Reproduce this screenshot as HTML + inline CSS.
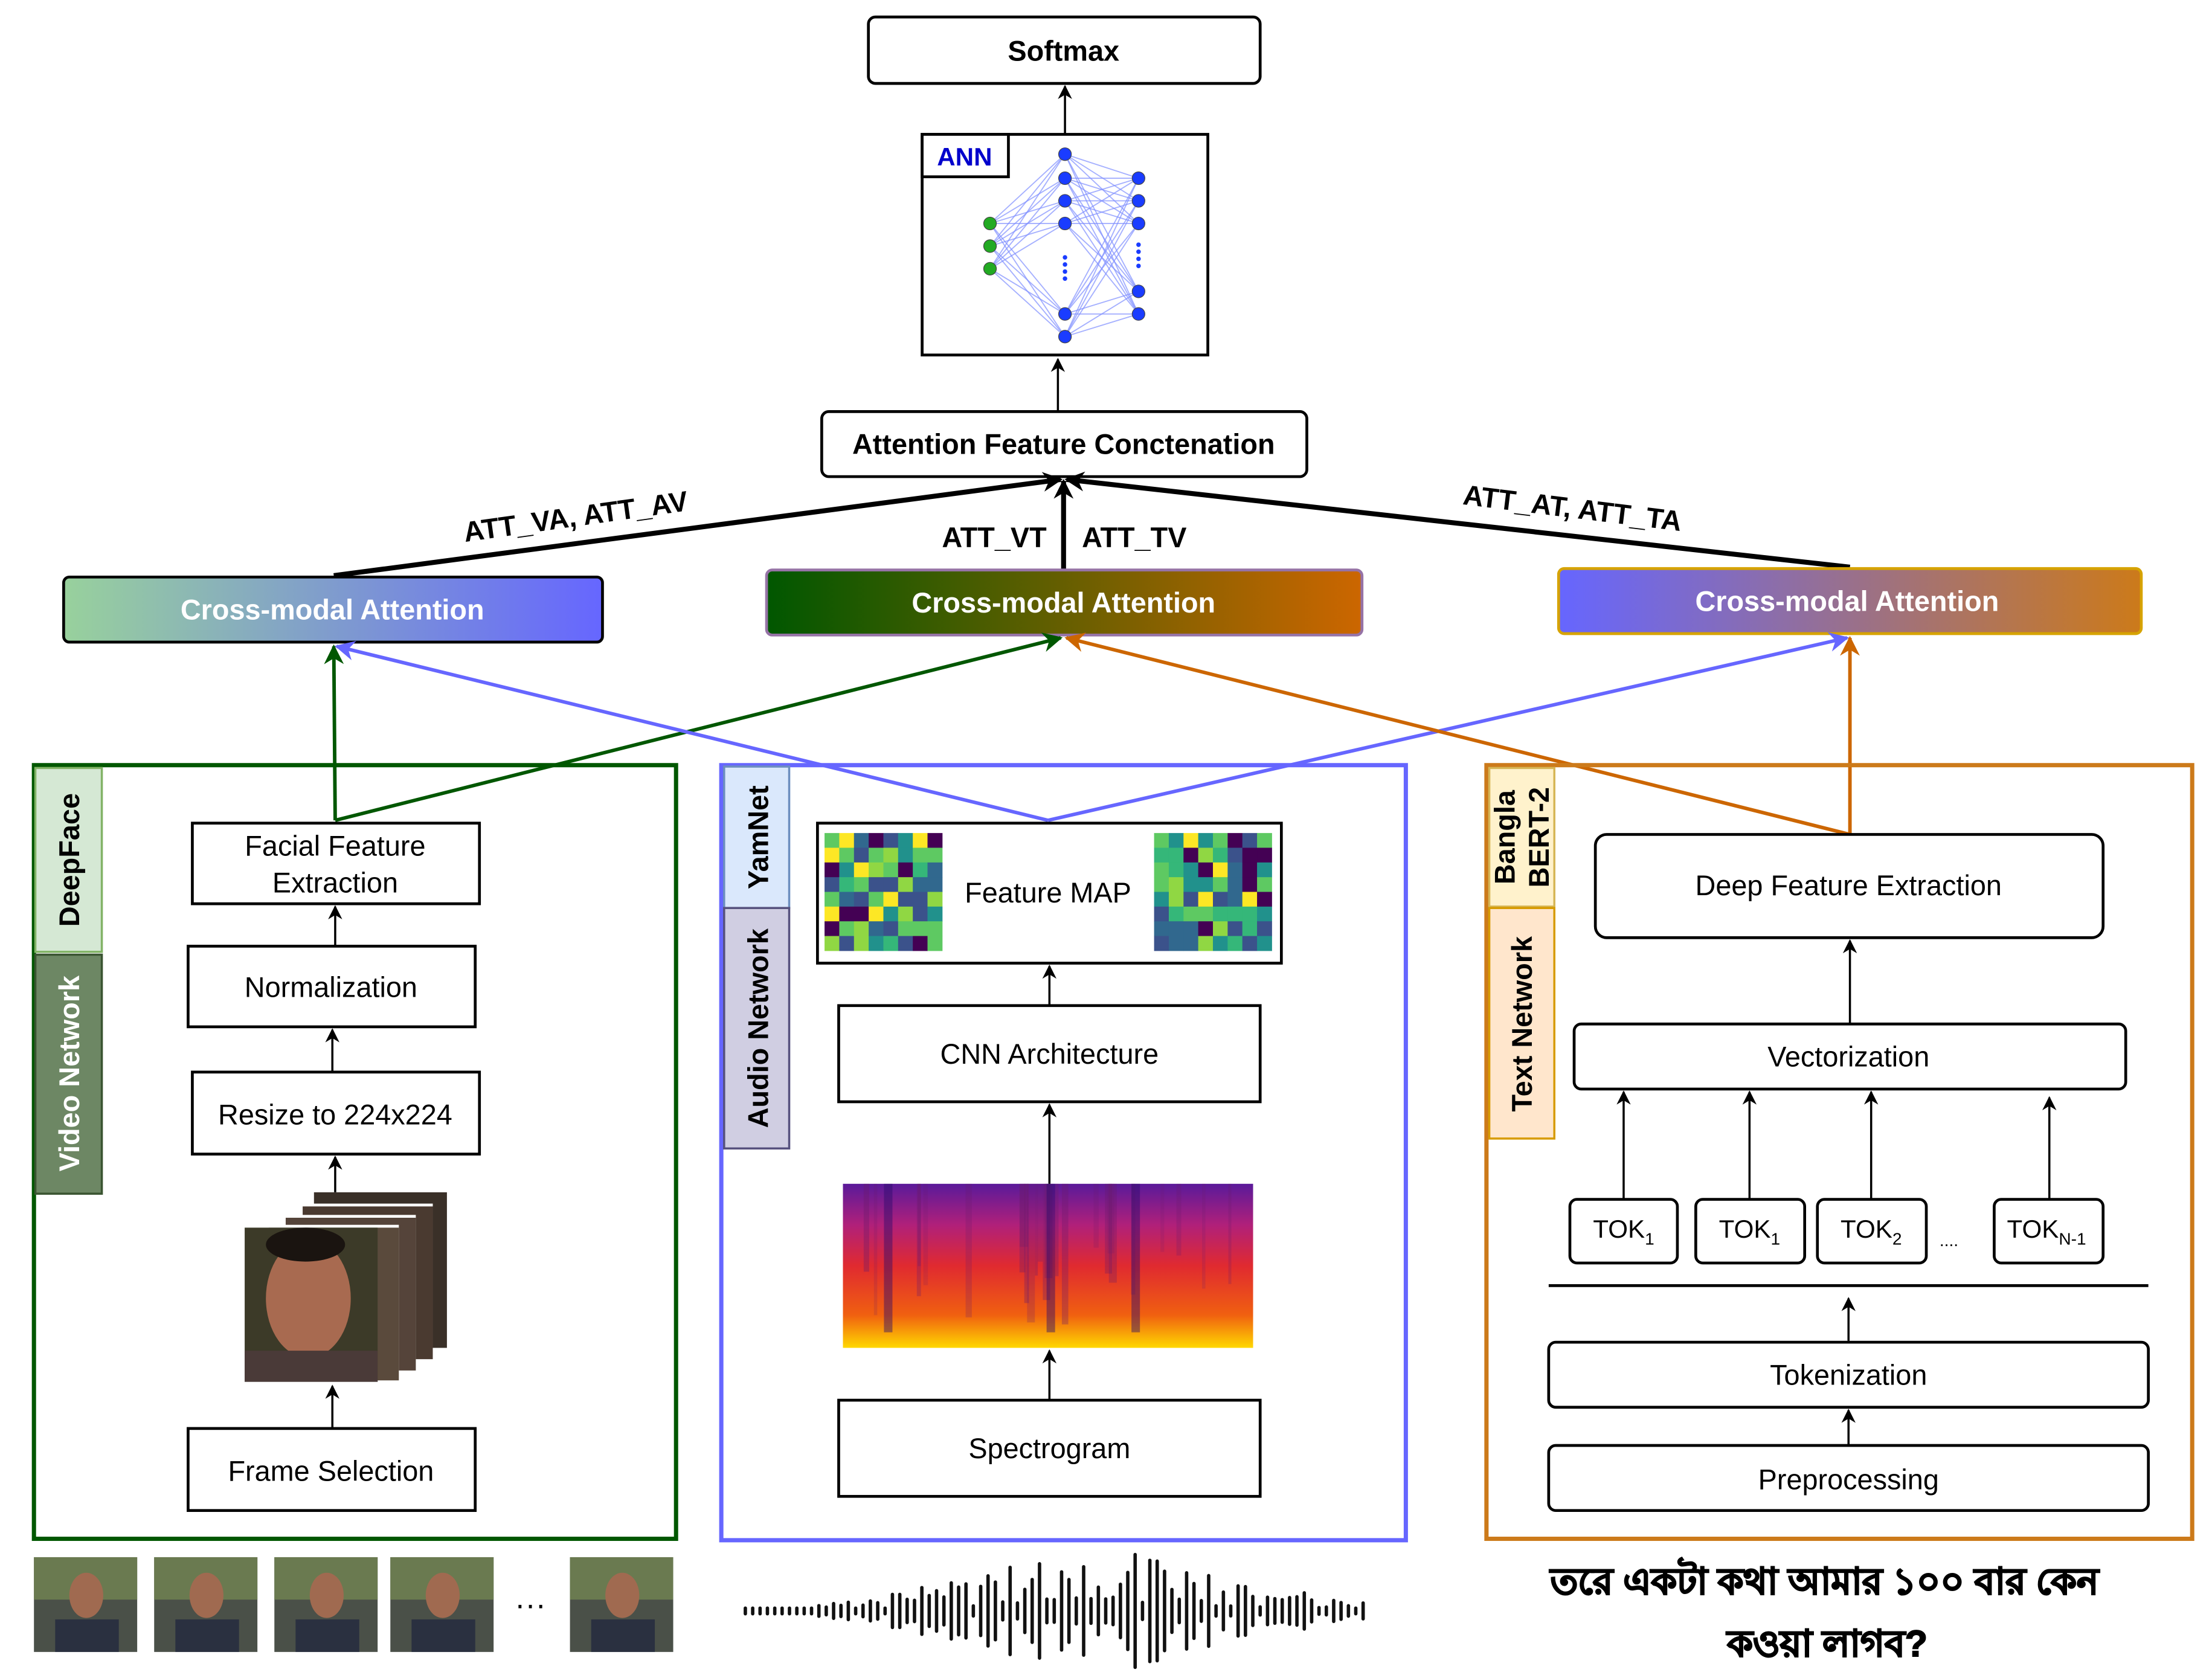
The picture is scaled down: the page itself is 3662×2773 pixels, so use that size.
<!DOCTYPE html>
<html><head><meta charset="utf-8"><style>
html,body{margin:0;padding:0;background:#fff;}
svg{display:block;}
text{font-family:"Liberation Sans","Noto Sans CJK SC",sans-serif;}
</style></head><body>
<svg id="s" xmlns="http://www.w3.org/2000/svg" width="3662" height="2773" viewBox="0 0 1564 1184.3" preserveAspectRatio="none">
<defs>
<marker id="ab" viewBox="0 0 10 10" refX="9" refY="5" markerWidth="10" markerHeight="10" orient="auto-start-reverse" markerUnits="userSpaceOnUse"><path d="M0,0 L10,5 L0,10 L3,5z" fill="#000"/></marker>
<marker id="ak" viewBox="0 0 10 10" refX="9" refY="5" markerWidth="14" markerHeight="14" orient="auto" markerUnits="userSpaceOnUse"><path d="M0,0 L10,5 L0,10 L3,5z" fill="#000"/></marker>
<marker id="ag" viewBox="0 0 10 10" refX="9" refY="5" markerWidth="14" markerHeight="14" orient="auto" markerUnits="userSpaceOnUse"><path d="M0,0 L10,5 L0,10 L3,5z" fill="#005700"/></marker>
<marker id="abl" viewBox="0 0 10 10" refX="9" refY="5" markerWidth="14" markerHeight="14" orient="auto" markerUnits="userSpaceOnUse"><path d="M0,0 L10,5 L0,10 L3,5z" fill="#6666ff"/></marker>
<marker id="ao" viewBox="0 0 10 10" refX="9" refY="5" markerWidth="14" markerHeight="14" orient="auto" markerUnits="userSpaceOnUse"><path d="M0,0 L10,5 L0,10 L3,5z" fill="#cc6600"/></marker>
<linearGradient id="g1"><stop offset="0" stop-color="#98d19c"/><stop offset="1" stop-color="#6666ff"/></linearGradient>
<linearGradient id="g2"><stop offset="0" stop-color="#005700"/><stop offset="1" stop-color="#cc6600"/></linearGradient>
<linearGradient id="g3"><stop offset="0" stop-color="#6666ff"/><stop offset="1" stop-color="#cc7a1a"/></linearGradient>
<linearGradient id="sp" x1="0" y1="0" x2="0" y2="1"><stop offset="0" stop-color="#5a1a9a"/><stop offset="0.25" stop-color="#b0207a"/><stop offset="0.5" stop-color="#e02a30"/><stop offset="0.8" stop-color="#f06010"/><stop offset="1" stop-color="#ffd800"/></linearGradient>
</defs>

<rect x="614" y="12" width="277" height="47" rx="5" fill="#fff" stroke="#000" stroke-width="2"/>
<text x="752" y="43" font-size="20" font-weight="bold" text-anchor="middle">Softmax</text>
<line x1="753" y1="95" x2="753" y2="61" stroke="#000" stroke-width="1.5" marker-end="url(#ab)"/>

<rect x="652" y="95" width="202" height="156" fill="#fff" stroke="#000" stroke-width="2"/>
<g id="ann"></g>
<rect x="652" y="95" width="61" height="30" fill="#fff" stroke="#000" stroke-width="2"/>
<text x="682" y="117" font-size="18" font-weight="bold" fill="#0000cc" text-anchor="middle">ANN</text>
<line x1="748" y1="290" x2="748" y2="254" stroke="#000" stroke-width="1.5" marker-end="url(#ab)"/>

<rect x="581" y="291" width="343" height="46" rx="5" fill="#fff" stroke="#000" stroke-width="2"/>
<text x="752" y="321" font-size="20" font-weight="bold" text-anchor="middle">Attention Feature Conctenation</text>

<line x1="236" y1="407" x2="750" y2="339" stroke="#000" stroke-width="3.5" marker-end="url(#ak)"/>
<line x1="752" y1="403" x2="752" y2="340" stroke="#000" stroke-width="3.5" marker-end="url(#ak)"/>
<line x1="1308" y1="401" x2="754" y2="339" stroke="#000" stroke-width="3.5" marker-end="url(#ak)"/>
<text x="408" y="372" font-size="20" font-weight="bold" text-anchor="middle" transform="rotate(-8 408 372)">ATT_VA, ATT_AV</text>
<text x="703" y="387" font-size="20" font-weight="bold" text-anchor="middle">ATT_VT</text>
<text x="802" y="387" font-size="20" font-weight="bold" text-anchor="middle">ATT_TV</text>
<text x="1111" y="366" font-size="20" font-weight="bold" text-anchor="middle" transform="rotate(7 1111 366)">ATT_AT, ATT_TA</text>

<rect x="45" y="408" width="381" height="46" rx="4" fill="url(#g1)" stroke="#000" stroke-width="2"/>
<text x="235" y="438" font-size="20" font-weight="bold" fill="#fff" text-anchor="middle">Cross-modal Attention</text>
<rect x="542" y="403" width="421" height="46" rx="4" fill="url(#g2)" stroke="#9673a6" stroke-width="2"/>
<text x="752" y="433" font-size="20" font-weight="bold" fill="#fff" text-anchor="middle">Cross-modal Attention</text>
<rect x="1102" y="402" width="412" height="46" rx="4" fill="url(#g3)" stroke="#d6a300" stroke-width="2"/>
<text x="1306" y="432" font-size="20" font-weight="bold" fill="#fff" text-anchor="middle">Cross-modal Attention</text>

<line x1="237" y1="580" x2="236" y2="457" stroke="#005700" stroke-width="2.5" marker-end="url(#ag)"/>
<line x1="237" y1="580" x2="750" y2="451" stroke="#005700" stroke-width="2.5" marker-end="url(#ag)"/>
<line x1="741" y1="580" x2="238" y2="457" stroke="#6666ff" stroke-width="2.5" marker-end="url(#abl)"/>
<line x1="741" y1="580" x2="1306" y2="451" stroke="#6666ff" stroke-width="2.5" marker-end="url(#abl)"/>
<line x1="1308" y1="590" x2="754" y2="451" stroke="#cc6600" stroke-width="2.5" marker-end="url(#ao)"/>
<line x1="1308" y1="590" x2="1308" y2="451" stroke="#cc6600" stroke-width="2.5" marker-end="url(#ao)"/>

<rect x="24" y="541" width="454" height="547" fill="none" stroke="#005700" stroke-width="3"/>
<rect x="25" y="543" width="47" height="130" fill="#d5e8d4" stroke="#82b366" stroke-width="1.5"/>
<text transform="translate(56 608) rotate(-90)" font-size="20" font-weight="bold" text-anchor="middle">DeepFace</text>
<rect x="25" y="675" width="47" height="169" fill="#6d8764" stroke="#3a5431" stroke-width="1.5"/>
<text transform="translate(56 759) rotate(-90)" font-size="20" font-weight="bold" fill="#fff" text-anchor="middle">Video Network</text>
<rect x="136" y="582" width="203" height="57" fill="#fff" stroke="#000" stroke-width="2"/>
<text x="237" y="605" font-size="20" text-anchor="middle">Facial Feature</text>
<text x="237" y="631" font-size="20" text-anchor="middle">Extraction</text>
<rect x="133" y="669" width="203" height="57" fill="#fff" stroke="#000" stroke-width="2"/>
<text x="234" y="705" font-size="20" text-anchor="middle">Normalization</text>
<rect x="136" y="758" width="203" height="58" fill="#fff" stroke="#000" stroke-width="2"/>
<text x="237" y="795" font-size="20" text-anchor="middle">Resize to 224x224</text>
<rect x="133" y="1010" width="203" height="58" fill="#fff" stroke="#000" stroke-width="2"/>
<text x="234" y="1047" font-size="20" text-anchor="middle">Frame Selection</text>
<line x1="237" y1="669" x2="237" y2="641" stroke="#000" stroke-width="1.5" marker-end="url(#ab)"/>
<line x1="235" y1="758" x2="235" y2="728" stroke="#000" stroke-width="1.5" marker-end="url(#ab)"/>
<line x1="237" y1="843" x2="237" y2="818" stroke="#000" stroke-width="1.5" marker-end="url(#ab)"/>
<line x1="235" y1="1010" x2="235" y2="980" stroke="#000" stroke-width="1.5" marker-end="url(#ab)"/>
<g>
<rect x="222" y="843" width="94" height="110" fill="#3a3028"/>
<rect x="212" y="851" width="94" height="110" fill="#fff"/><rect x="214" y="853" width="92" height="108" fill="#4a3a30"/>
<rect x="200" y="859" width="94" height="110" fill="#fff"/><rect x="202" y="861" width="92" height="108" fill="#55443a"/>
<rect x="188" y="866" width="94" height="110" fill="#fff"/><rect x="190" y="868" width="92" height="108" fill="#5a4a3c"/>
<rect x="173" y="868" width="94" height="109" fill="#3c3a28"/>
<ellipse cx="218" cy="918" rx="30" ry="42" fill="#a86a50"/>
<rect x="173" y="955" width="94" height="22" fill="#4a3a38"/>
<ellipse cx="216" cy="880" rx="28" ry="12" fill="#1a1410"/>
</g>
<g id="thumbs"></g>
<text x="375" y="1142" font-size="22" text-anchor="middle">···</text>

<rect x="510" y="541" width="484" height="548" fill="none" stroke="#6666ff" stroke-width="3"/>
<rect x="512" y="542" width="46" height="100" fill="#dae8fc" stroke="#6c8ebf" stroke-width="1.5"/>
<text transform="translate(543 592) rotate(-90)" font-size="20" font-weight="bold" text-anchor="middle">YamNet</text>
<rect x="512" y="642" width="46" height="170" fill="#d0cee2" stroke="#56517e" stroke-width="1.5"/>
<text transform="translate(543 727) rotate(-90)" font-size="20" font-weight="bold" text-anchor="middle">Audio Network</text>
<rect x="578" y="582" width="328" height="99" fill="#fff" stroke="#000" stroke-width="2"/>
<g id="hm"></g>
<text x="741" y="638" font-size="20" text-anchor="middle">Feature MAP</text>
<rect x="593" y="711" width="298" height="68" fill="#fff" stroke="#000" stroke-width="2"/>
<text x="742" y="752" font-size="20" text-anchor="middle">CNN Architecture</text>
<rect x="596" y="837" width="290" height="116" fill="url(#sp)"/>
<g id="spl"></g>
<rect x="593" y="990" width="298" height="68" fill="#fff" stroke="#000" stroke-width="2"/>
<text x="742" y="1031" font-size="20" text-anchor="middle">Spectrogram</text>
<line x1="742" y1="711" x2="742" y2="683" stroke="#000" stroke-width="1.5" marker-end="url(#ab)"/>
<line x1="742" y1="837" x2="742" y2="781" stroke="#000" stroke-width="1.5" marker-end="url(#ab)"/>
<line x1="742" y1="990" x2="742" y2="955" stroke="#000" stroke-width="1.5" marker-end="url(#ab)"/>
<line x1="516" y1="1186" x2="978" y2="1186" stroke="#ddd" stroke-width="1"/>
<g id="wave"></g>

<rect x="1051" y="541" width="499" height="547" fill="none" stroke="#cc7a1a" stroke-width="3"/>
<rect x="1053" y="543" width="46" height="98" fill="#fff2cc" stroke="#d6b656" stroke-width="1.5"/>
<text transform="translate(1071 592) rotate(-90)" font-size="20" font-weight="bold" text-anchor="middle">Bangla</text>
<text transform="translate(1095 592) rotate(-90)" font-size="20" font-weight="bold" text-anchor="middle">BERT-2</text>
<rect x="1053" y="642" width="46" height="163" fill="#ffe6cc" stroke="#d79b00" stroke-width="1.5"/>
<text transform="translate(1083 724) rotate(-90)" font-size="20" font-weight="bold" text-anchor="middle">Text Network</text>
<rect x="1128" y="590" width="359" height="73" rx="8" fill="#fff" stroke="#000" stroke-width="2"/>
<text x="1307" y="633" font-size="20" text-anchor="middle">Deep Feature Extraction</text>
<rect x="1113" y="724" width="390" height="46" rx="5" fill="#fff" stroke="#000" stroke-width="2"/>
<text x="1307" y="754" font-size="20" text-anchor="middle">Vectorization</text>
<line x1="1308" y1="724" x2="1308" y2="665" stroke="#000" stroke-width="1.5" marker-end="url(#ab)"/>
<g font-size="18">
<rect x="1110" y="848" width="76" height="45" rx="5" fill="#fff" stroke="#000" stroke-width="2"/>
<text x="1148" y="875" text-anchor="middle">TOK<tspan font-size="12" dy="5">1</tspan></text>
<rect x="1199" y="848" width="77" height="45" rx="5" fill="#fff" stroke="#000" stroke-width="2"/>
<text x="1237" y="875" text-anchor="middle">TOK<tspan font-size="12" dy="5">1</tspan></text>
<rect x="1285" y="848" width="77" height="45" rx="5" fill="#fff" stroke="#000" stroke-width="2"/>
<text x="1323" y="875" text-anchor="middle">TOK<tspan font-size="12" dy="5">2</tspan></text>
<rect x="1410" y="848" width="77" height="45" rx="5" fill="#fff" stroke="#000" stroke-width="2"/>
<text x="1447" y="875" text-anchor="middle">TOK<tspan font-size="12" dy="5">N-1</tspan></text>
<text x="1378" y="881" font-size="12" text-anchor="middle">....</text>
</g>
<line x1="1148" y1="848" x2="1148" y2="772" stroke="#000" stroke-width="1.5" marker-end="url(#ab)"/>
<line x1="1237" y1="848" x2="1237" y2="772" stroke="#000" stroke-width="1.5" marker-end="url(#ab)"/>
<line x1="1323" y1="848" x2="1323" y2="772" stroke="#000" stroke-width="1.5" marker-end="url(#ab)"/>
<line x1="1449" y1="848" x2="1449" y2="776" stroke="#000" stroke-width="1.5" marker-end="url(#ab)"/>
<line x1="1095" y1="909" x2="1519" y2="909" stroke="#000" stroke-width="2"/>
<line x1="1307" y1="948" x2="1307" y2="918" stroke="#000" stroke-width="1.5" marker-end="url(#ab)"/>
<rect x="1095" y="949" width="424" height="46" rx="5" fill="#fff" stroke="#000" stroke-width="2"/>
<text x="1307" y="979" font-size="20" text-anchor="middle">Tokenization</text>
<line x1="1307" y1="1022" x2="1307" y2="997" stroke="#000" stroke-width="1.5" marker-end="url(#ab)"/>
<rect x="1095" y="1022" width="424" height="46" rx="5" fill="#fff" stroke="#000" stroke-width="2"/>
<text x="1307" y="1053" font-size="20" text-anchor="middle">Preprocessing</text>
<text x="1290" y="1127" font-size="26" font-weight="bold" stroke="#000" stroke-width="0.9" text-anchor="middle">তরে একটা কথা আমার ১০০ বার কেন</text>
<text x="1292" y="1171" font-size="26" font-weight="bold" stroke="#000" stroke-width="0.9" text-anchor="middle">কওয়া লাগব?</text>
</svg>
<script>
var NS="http://www.w3.org/2000/svg";
function el(p,t,a){var e=document.createElementNS(NS,t);for(var k in a)e.setAttribute(k,a[k]);p.appendChild(e);return e;}
var ann=document.getElementById('ann');
var L0=[158,174,190],L1=[109,126,142,158,222,238],L2=[126,142,158,206,222];
L0.forEach(function(a){L1.forEach(function(b){el(ann,'line',{x1:700,y1:a,x2:753,y2:b,stroke:'#8090ff','stroke-width':0.8,opacity:0.7});});});
L1.forEach(function(a){L2.forEach(function(b){el(ann,'line',{x1:753,y1:a,x2:805,y2:b,stroke:'#8090ff','stroke-width':0.8,opacity:0.7});});});
L0.forEach(function(y){el(ann,'circle',{cx:700,cy:y,r:4.5,fill:'#22aa22',stroke:'#444','stroke-width':0.5});});
L1.forEach(function(y){el(ann,'circle',{cx:753,cy:y,r:4.5,fill:'#1a3cff',stroke:'#444','stroke-width':0.5});});
L2.forEach(function(y){el(ann,'circle',{cx:805,cy:y,r:4.5,fill:'#1a3cff',stroke:'#444','stroke-width':0.5});});
[182,187,192,197].forEach(function(y){el(ann,'circle',{cx:753,cy:y,r:1.6,fill:'#1a3cff'});});
[173,178,183,188].forEach(function(y){el(ann,'circle',{cx:805,cy:y,r:1.6,fill:'#1a3cff'});});
var vir=['#440154','#3b528b','#21918c','#5ec962','#fde725','#31688e','#35b779','#90d743'];
var hm=document.getElementById('hm');var seed=7;function rnd(){seed=(seed*9301+49297)%233280;return seed/233280;}
[583,816].forEach(function(x0){for(var i=0;i<8;i++)for(var j=0;j<8;j++){el(hm,'rect',{x:x0+i*10.4,y:589+j*10.4,width:10.6,height:10.6,fill:vir[Math.floor(rnd()*8)]});}});
var sp=document.getElementById('spl');
for(var i=0;i<25;i++){var x=596+rnd()*284;var h=40+rnd()*60;el(sp,'rect',{x:x,y:837,width:2+rnd()*4,height:h,fill:'#6a1a6a',opacity:0.15+rnd()*0.2});}
[625,740,800].forEach(function(x){el(sp,'rect',{x:x,y:837,width:6,height:105,fill:'#2a0a6a',opacity:0.45});});
var wv=document.getElementById('wave');
for(var x=527;x<=968;x+=5.2){var d=Math.abs(x-780)/190;var amp=Math.max(2,42*Math.exp(-d*d*2)*(0.4+0.6*rnd()));if(rnd()<0.3)amp=Math.max(2,amp*0.3);el(wv,'line',{x1:x,y1:1139-amp,x2:x,y2:1139+amp,stroke:'#111','stroke-width':2.4,'stroke-linecap':'round'});}
var th=document.getElementById('thumbs');
[24,109,194,276,403].forEach(function(x){el(th,'rect',{x:x,y:1101,width:73,height:67,fill:'#4a5048'});el(th,'rect',{x:x,y:1101,width:73,height:30,fill:'#6a7a50'});el(th,'ellipse',{cx:x+37,cy:1128,rx:12,ry:16,fill:'#a06a50'});el(th,'rect',{x:x+15,y:1145,width:45,height:23,fill:'#2a3040'});});
</script>
</body></html>
